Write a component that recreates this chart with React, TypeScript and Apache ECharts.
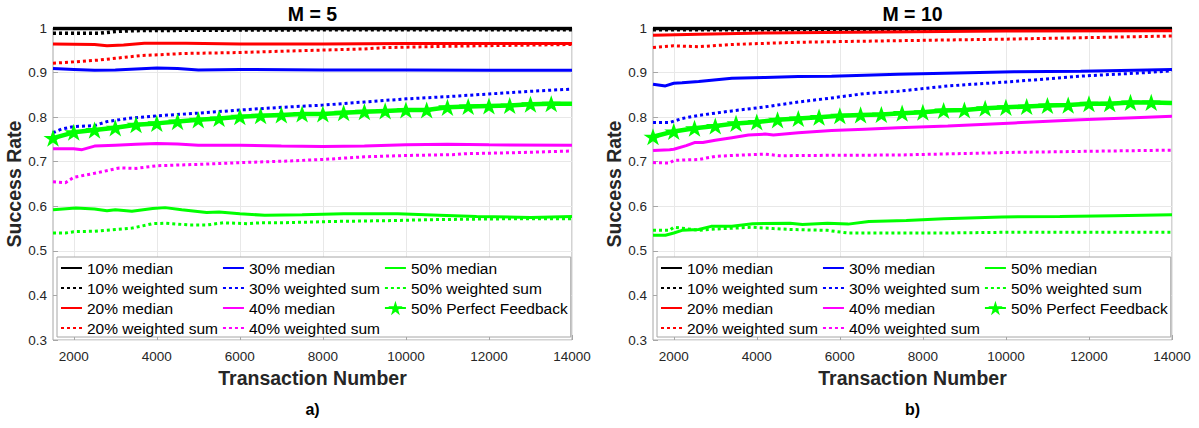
import React, { useEffect, useRef } from 'react';
import * as echarts from 'echarts';

const FONT = '"Liberation Sans", Arial, Helvetica, sans-serif';

const X_TICKS = [2000, 4000, 6000, 8000, 10000, 12000, 14000];
const X_MIN = 1500;
const X_MAX = 14000;
const Y_MIN = 0.3;
const Y_MAX = 1;
const Y_STEP = 0.1;

const PANEL_TITLES = ['M = 5', 'M = 10'];
const PANEL_TAGS = ['a)', 'b)'];
const X_NAME = 'Transaction Number';
const Y_NAME = 'Success Rate';

const NAMES = [
  '10% median', '10% weighted sum', '20% median', '20% weighted sum',
  '30% median', '30% weighted sum', '40% median', '40% weighted sum',
  '50% median', '50% weighted sum', '50% Perfect Feedback',
];

// ---------- M = 5 ----------
const m5_10_median = [[1500, 0.999], [4000, 0.999], [8000, 0.999], [14000, 0.999]];
const m5_10_ws = [[1500, 0.988], [2600, 0.988], [3000, 0.992], [3400, 0.994], [5000, 0.995], [8000, 0.996], [14000, 0.996]];
const m5_20_median = [[1500, 0.964], [2500, 0.963], [2800, 0.960], [3200, 0.962], [3700, 0.966], [4700, 0.966], [6000, 0.964], [8000, 0.964], [10000, 0.965], [12000, 0.965], [14000, 0.965]];
const m5_20_ws = [[1500, 0.921], [2000, 0.924], [2600, 0.928], [3000, 0.932], [3600, 0.938], [4700, 0.943], [6000, 0.945], [7400, 0.949], [9000, 0.953], [9500, 0.956], [11000, 0.959], [12500, 0.961], [14000, 0.963]];
const m5_30_median = [[1500, 0.909], [2000, 0.907], [2500, 0.905], [3000, 0.906], [3500, 0.908], [4000, 0.910], [4500, 0.909], [5000, 0.906], [6000, 0.907], [8000, 0.906], [10000, 0.906], [12000, 0.905], [14000, 0.905]];
const m5_30_ws = [[1500, 0.765], [1700, 0.773], [2000, 0.779], [2500, 0.781], [2800, 0.790], [3300, 0.797], [4000, 0.803], [5000, 0.809], [6000, 0.816], [7000, 0.822], [8000, 0.827], [9000, 0.834], [10000, 0.841], [11000, 0.846], [12000, 0.852], [13000, 0.858], [14000, 0.863]];
const m5_40_median = [[1500, 0.729], [2000, 0.729], [2200, 0.727], [2500, 0.735], [3000, 0.737], [3500, 0.739], [4000, 0.741], [4500, 0.740], [5000, 0.737], [6000, 0.737], [7000, 0.735], [8000, 0.734], [9000, 0.735], [10000, 0.738], [11000, 0.739], [12000, 0.738], [14000, 0.737]];
const m5_40_ws = [[1500, 0.655], [1800, 0.653], [2000, 0.665], [2500, 0.674], [2900, 0.682], [3100, 0.686], [3500, 0.685], [4000, 0.691], [5000, 0.694], [6000, 0.698], [7000, 0.701], [8000, 0.705], [9000, 0.711], [10000, 0.714], [11200, 0.716], [11400, 0.718], [12500, 0.720], [14000, 0.724]];
const m5_50_median = [[1500, 0.592], [2050, 0.596], [2500, 0.594], [2800, 0.590], [3000, 0.592], [3400, 0.589], [3900, 0.595], [4200, 0.597], [4600, 0.592], [5200, 0.586], [5500, 0.587], [6000, 0.583], [6600, 0.580], [7500, 0.581], [8500, 0.583], [9800, 0.583], [10800, 0.580], [11700, 0.577], [13000, 0.575], [14000, 0.577]];
const m5_50_ws = [[1500, 0.540], [1800, 0.540], [2000, 0.543], [2500, 0.544], [3000, 0.548], [3400, 0.551], [3900, 0.561], [4200, 0.562], [4800, 0.558], [5200, 0.558], [5600, 0.563], [6200, 0.561], [6500, 0.563], [7000, 0.563], [8300, 0.566], [9700, 0.568], [10600, 0.570], [12500, 0.572], [14000, 0.572]];
const m5_50_pf = [[1500, 0.753], [2000, 0.766], [2500, 0.771], [3000, 0.776], [3500, 0.783], [4000, 0.786], [4500, 0.790], [5000, 0.794], [5500, 0.797], [6000, 0.801], [6500, 0.803], [7000, 0.805], [7500, 0.807], [8000, 0.807], [8500, 0.810], [9000, 0.812], [9500, 0.814], [10000, 0.816], [10500, 0.816], [11000, 0.822], [11500, 0.824], [12000, 0.825], [12500, 0.826], [13000, 0.829], [13500, 0.830], [14000, 0.830]];

// ---------- M = 10 ----------
const m10_10_median = [[1500, 0.999], [4000, 0.999], [8000, 0.999], [14000, 0.999]];
const m10_10_ws = [[1500, 0.996], [5000, 0.996], [10000, 0.996], [14000, 0.996]];
const m10_20_median = [[1500, 0.984], [2600, 0.986], [4200, 0.989], [7000, 0.991], [10000, 0.993], [14000, 0.994]];
const m10_20_ws = [[1500, 0.956], [2000, 0.960], [2600, 0.958], [3400, 0.963], [5000, 0.968], [7000, 0.971], [10000, 0.975], [14000, 0.982]];
const m10_30_median = [[1500, 0.874], [1800, 0.870], [2000, 0.876], [2200, 0.877], [2600, 0.880], [3400, 0.887], [4200, 0.889], [5000, 0.891], [5800, 0.892], [6600, 0.894], [7400, 0.896], [10200, 0.902], [11800, 0.903], [13400, 0.906], [14000, 0.907]];
const m10_30_ws = [[1500, 0.788], [1900, 0.788], [2200, 0.797], [2600, 0.804], [3400, 0.814], [4200, 0.823], [5000, 0.834], [5800, 0.843], [6600, 0.853], [7400, 0.858], [8600, 0.870], [10200, 0.880], [11800, 0.892], [13400, 0.900], [14000, 0.904]];
const m10_40_median = [[1500, 0.725], [1900, 0.727], [2000, 0.728], [2300, 0.736], [2500, 0.743], [2700, 0.743], [3000, 0.748], [3400, 0.754], [3800, 0.760], [4200, 0.762], [4400, 0.760], [5000, 0.765], [5800, 0.770], [6600, 0.773], [7400, 0.776], [8600, 0.780], [10200, 0.787], [11800, 0.794], [13400, 0.800], [14000, 0.802]];
const m10_40_ws = [[1500, 0.698], [1900, 0.697], [2000, 0.703], [2600, 0.705], [3000, 0.712], [3400, 0.714], [4200, 0.717], [4600, 0.713], [5000, 0.714], [7400, 0.715], [10200, 0.721], [14000, 0.726]];
const m10_50_median = [[1500, 0.535], [1800, 0.535], [2000, 0.540], [2200, 0.546], [2600, 0.548], [2900, 0.555], [3400, 0.555], [3900, 0.561], [4800, 0.562], [5100, 0.559], [5700, 0.562], [6200, 0.560], [6700, 0.566], [7600, 0.568], [8500, 0.572], [9900, 0.576], [11300, 0.577], [12600, 0.579], [14000, 0.581]];
const m10_50_ws = [[1500, 0.546], [1900, 0.546], [2000, 0.553], [2200, 0.551], [2600, 0.546], [3000, 0.549], [3900, 0.553], [4400, 0.550], [4800, 0.548], [5700, 0.546], [6200, 0.540], [8500, 0.540], [10300, 0.542], [14000, 0.542]];
const m10_50_pf = [[1500, 0.756], [2000, 0.768], [2500, 0.775], [3000, 0.780], [3500, 0.786], [4000, 0.789], [4500, 0.794], [5000, 0.797], [5500, 0.800], [6000, 0.803], [6500, 0.805], [7000, 0.806], [7500, 0.809], [8000, 0.811], [8500, 0.815], [9000, 0.816], [9500, 0.820], [10000, 0.822], [10500, 0.824], [11000, 0.826], [11500, 0.827], [12000, 0.830], [12500, 0.830], [13000, 0.833], [13500, 0.833], [14000, 0.832]];

const PANELS = [
  [m5_10_median, m5_10_ws, m5_20_median, m5_20_ws, m5_30_median, m5_30_ws, m5_40_median, m5_40_ws, m5_50_median, m5_50_ws, m5_50_pf],
  [m10_10_median, m10_10_ws, m10_20_median, m10_20_ws, m10_30_median, m10_30_ws, m10_40_median, m10_40_ws, m10_50_median, m10_50_ws, m10_50_pf],
];

const COLORS = ['#000000', '#000000', '#ff0000', '#ff0000', '#0000ff', '#0000ff', '#ff00ff', '#ff00ff', '#00ff00', '#00ff00', '#00ff00'];
const DOTTED = [false, true, false, true, false, true, false, true, false, true, false];

const STAR = 'path://M0,-10L2.245,-3.09L9.51,-3.09L3.633,1.18L5.88,8.09L0,3.82L-5.88,8.09L-3.633,1.18L-9.51,-3.09L-2.245,-3.09Z';

const GRID_LEFTS = [53, 653];
const GRID_TOP = 28;
const GRID_W = 519;
const GRID_H = 312;

export default function App() {
  const ref = useRef<HTMLDivElement>(null);

  useEffect(() => {
    document.body.style.margin = '0';
    if (!ref.current) return;
    const chart = echarts.init(ref.current, undefined, { renderer: 'svg' });

    const axisColor = '#a6a6a6';
    const gridColor = '#e8e8e8';
    const labelStyle = { color: '#262626', fontSize: 13.5, fontFamily: FONT };
    const nameStyle = { color: '#262626', fontSize: 19.5, fontWeight: 'bold' as const, fontFamily: FONT };

    const grids = GRID_LEFTS.map((l) => ({
      left: l, top: GRID_TOP, width: GRID_W, height: GRID_H,
      show: true, borderColor: axisColor, borderWidth: 1, backgroundColor: 'transparent',
    }));

    const xAxes = GRID_LEFTS.map((_, i) => ({
      gridIndex: i, type: 'value', min: X_MIN, max: X_MAX,
      axisLine: { show: false },
      axisTick: { show: true, inside: true, length: 5, customValues: X_TICKS, lineStyle: { color: axisColor } },
      axisLabel: { ...labelStyle, customValues: X_TICKS, margin: 9, formatter: (v: number) => String(v) },
      splitLine: { show: true, lineStyle: { color: gridColor, width: 1 } },
      name: X_NAME, nameLocation: 'middle', nameGap: 28, nameTextStyle: nameStyle,
    }));

    const yAxes = GRID_LEFTS.map((_, i) => ({
      gridIndex: i, type: 'value', min: Y_MIN, max: Y_MAX, interval: Y_STEP,
      axisLine: { show: false },
      axisTick: { show: true, inside: true, length: 5, lineStyle: { color: axisColor } },
      axisLabel: { ...labelStyle, margin: 6 },
      splitLine: { show: true, lineStyle: { color: gridColor, width: 1 } },
      name: Y_NAME, nameLocation: 'middle', nameGap: 26, nameRotate: 90, nameTextStyle: nameStyle,
    }));

    const series: any[] = [];
    PANELS.forEach((panel, gi) => {
      panel.forEach((data, si) => {
        const isPF = si === 10;
        series.push({
          type: 'line',
          name: NAMES[si],
          xAxisIndex: gi,
          yAxisIndex: gi,
          data: isPF
            ? data.map((p, k) => (k === data.length - 1 ? { value: p, symbol: 'none' } : p))
            : data,
          showSymbol: isPF,
          symbol: isPF ? STAR : 'none',
          symbolSize: isPF ? [19, 18] : 0,
          symbolKeepAspect: true,
          color: COLORS[si],
          itemStyle: { color: COLORS[si] },
          lineStyle: {
            color: COLORS[si],
            width: isPF ? 4.5 : (si < 2 ? 3.5 : 3),
            type: DOTTED[si] ? [3, 3] : 'solid',
          },
          silent: true,
          z: 2,
        });
      });
    });

    const legendData = NAMES.map((n, si) =>
      si === 10
        ? { name: n }
        : { name: n, itemStyle: { color: 'rgba(0,0,0,0)', borderWidth: 0, opacity: 0 } }
    );

    const legends = GRID_LEFTS.map((l) => ({
      left: l + 4, top: 257, orient: 'vertical', height: 80,
      itemWidth: 21, itemHeight: 18, itemGap: 4,
      padding: [3, 3, 1, 3],
      borderColor: axisColor, borderWidth: 1, backgroundColor: '#ffffff',
      textStyle: { color: '#000000', fontSize: 15.5, fontFamily: FONT },
      data: legendData,
      selectedMode: false,
    }));

    const graphic: any[] = [];
    GRID_LEFTS.forEach((l, i) => {
      const cx = l + GRID_W / 2;
      graphic.push({
        type: 'text', x: cx, y: 14,
        style: { text: PANEL_TITLES[i], textAlign: 'center', textVerticalAlign: 'middle', fill: '#000', font: `bold 19.5px ${FONT}` },
      });
      graphic.push({
        type: 'text', x: cx, y: 409,
        style: { text: PANEL_TAGS[i], textAlign: 'center', textVerticalAlign: 'middle', fill: '#000', font: `bold 16px ${FONT}` },
      });
    });

    chart.setOption({
      animation: false,
      backgroundColor: '#ffffff',
      grid: grids,
      xAxis: xAxes,
      yAxis: yAxes,
      legend: legends,
      series,
      graphic,
    });

    return () => chart.dispose();
  }, []);

  return <div ref={ref} style={{ width: 1199, height: 428 }} />;
}
